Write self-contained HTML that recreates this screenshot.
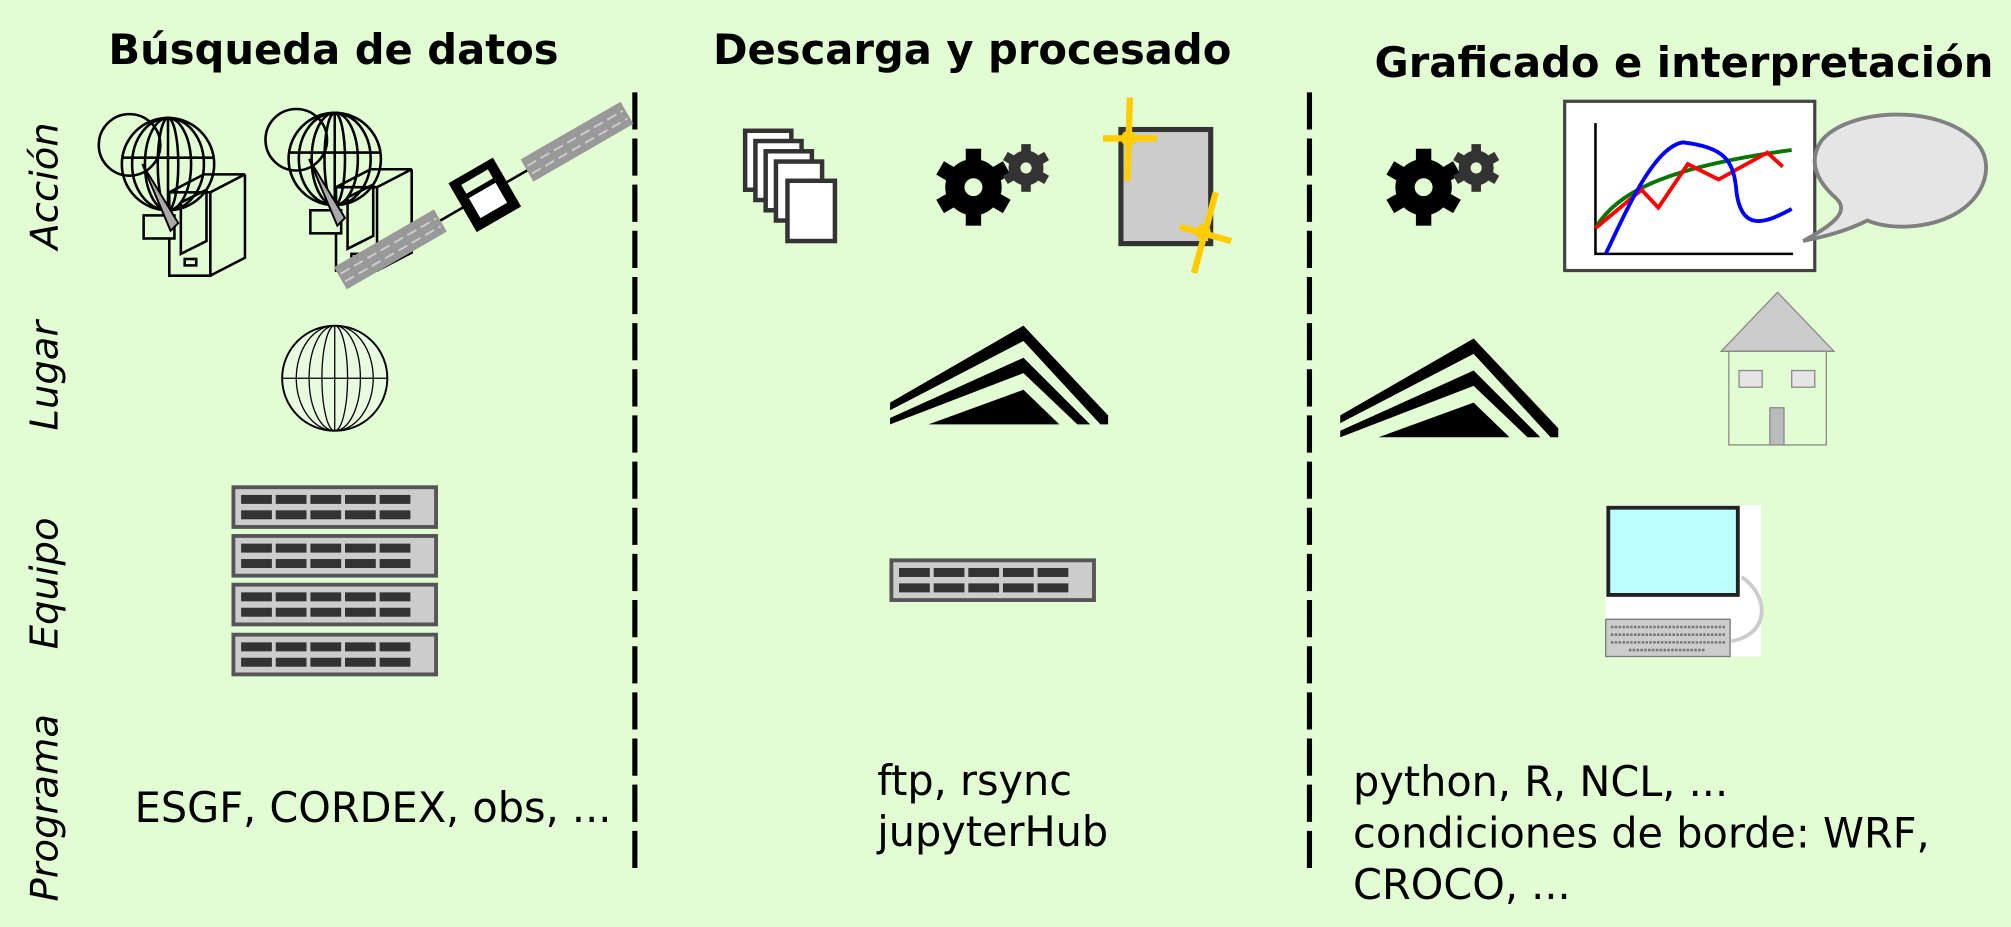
<!DOCTYPE html>
<html><head><meta charset="utf-8"><style>
html,body{margin:0;padding:0;background:#e2fdd4;}
svg{display:block}
text{font-family:"DejaVu Sans","Liberation Sans",sans-serif;}
</style></head><body>
<svg width="2011" height="927" viewBox="0 0 1568 723" preserveAspectRatio="none" xmlns="http://www.w3.org/2000/svg">
<rect width="1568" height="723" fill="#e2fdd4"/>
<defs>
<g id="srv">
<rect x="0" y="0" width="158" height="31" fill="#ccc" stroke="#555" stroke-width="3"/>
<g fill="#333">
<rect x="6" y="6" width="24" height="7"/><rect x="33" y="6" width="24" height="7"/><rect x="60" y="6" width="24" height="7"/><rect x="87" y="6" width="24" height="7"/><rect x="114" y="6" width="24" height="7"/>
<rect x="6" y="18" width="24" height="7"/><rect x="33" y="18" width="24" height="7"/><rect x="60" y="18" width="24" height="7"/><rect x="87" y="18" width="24" height="7"/><rect x="114" y="18" width="24" height="7"/>
</g></g>
<g id="gear">
<circle r="22" fill="currentColor"/>
<g fill="currentColor">
<rect x="-6" y="-30" width="12" height="12"/>
<rect x="-6" y="-30" width="12" height="12" transform="rotate(60)"/>
<rect x="-6" y="-30" width="12" height="12" transform="rotate(120)"/>
<rect x="-6" y="-30" width="12" height="12" transform="rotate(180)"/>
<rect x="-6" y="-30" width="12" height="12" transform="rotate(240)"/>
<rect x="-6" y="-30" width="12" height="12" transform="rotate(300)"/>
</g>
<circle r="7" fill="#e2fdd4"/>
</g>
<g id="pyr">
<path d="M0,60 L104,0 L170,70 L170,77 L164,77 L104,12 L0,66Z" fill="#000"/>
<path d="M0,72 L104,25 L156,77 L146,77 L104,37 L0,77Z" fill="#000"/>
<path d="M30,77 L104,50 L132,77Z" fill="#000"/>
</g>
<g id="globecab" fill="none" stroke="#000" stroke-width="2">
<circle cx="-30" cy="-15" r="24"/>
<circle cx="0" cy="0" r="36"/>
<ellipse cx="0" cy="0" rx="28" ry="36"/>
<ellipse cx="0" cy="0" rx="18" ry="36"/>
<ellipse cx="0" cy="0" rx="8" ry="36"/>
<line x1="-36" y1="-5" x2="36" y2="-5"/>
<line x1="0" y1="-36" x2="0" y2="36"/>
<path d="M1,22 L33,22 L33,87 L1,87Z M1,22 L28,8 L60,8 L33,22 M33,87 L60,73 L60,8"/>
<path d="M10,30 L30,20 L30,60 L10,70Z"/>
<rect x="-19" y="40" width="24" height="18" fill="#e2fdd4"/>
<rect x="13" y="74" width="9" height="5"/>
<path d="M-20,0 L8,46 L2,52Z" fill="#aaa" stroke="#000" stroke-width="1.5"/>
</g>
</defs>

<g font-weight="bold" font-size="32.5" fill="#000">
<text x="260" y="50" text-anchor="middle">Búsqueda de datos</text>
<text x="758" y="50" text-anchor="middle">Descarga y procesado</text>
<text x="1313" y="60" text-anchor="middle">Graficado e interpretación</text>
</g>

<line x1="495" y1="72" x2="495" y2="682" stroke="#000" stroke-width="4" stroke-dasharray="29,7"/>
<line x1="1021" y1="72" x2="1021" y2="682" stroke="#000" stroke-width="4" stroke-dasharray="29,7"/>

<g font-style="italic" font-size="30" fill="#000" text-anchor="middle">
<text transform="translate(45,145) rotate(-90)">Acción</text>
<text transform="translate(45,293) rotate(-90)">Lugar</text>
<text transform="translate(45,455) rotate(-90)">Equipo</text>
<text transform="translate(45,630) rotate(-90)">Programa</text>
</g>

<use href="#globecab" x="131" y="128"/>
<use href="#globecab" x="261" y="124"/>
<g transform="translate(378,152) rotate(-30)">
<line x1="-120" y1="0" x2="120" y2="0" stroke="#000" stroke-width="2"/>
<rect x="-130" y="-10" width="90" height="20" fill="#999"/>
<rect x="38" y="-10" width="90" height="20" fill="#999"/>
<g stroke="#ccc" stroke-width="1.5" stroke-dasharray="8,4"><line x1="-128" y1="-3" x2="-42" y2="-3"/><line x1="-128" y1="4" x2="-42" y2="4"/><line x1="40" y1="-3" x2="126" y2="-3"/><line x1="40" y1="4" x2="126" y2="4"/></g>
<rect x="-20" y="-22" width="40" height="44" fill="#000"/>
<rect x="-12" y="-4" width="24" height="18" fill="#fff"/>
<rect x="-12" y="-16" width="24" height="8" fill="#e2fdd4"/>
</g>

<g fill="#fff" stroke="#333" stroke-width="3.5">
<rect x="581" y="102" width="36" height="46"/>
<rect x="589" y="110" width="36" height="46"/>
<rect x="597" y="118" width="36" height="46"/>
<rect x="605" y="126" width="36" height="46"/>
<rect x="614" y="141" width="37" height="47"/>
</g>
<g transform="translate(759,146)" color="#000"><use href="#gear"/></g>
<g transform="translate(800,131) scale(0.62)" color="#333"><use href="#gear"/></g>
<rect x="874" y="101" width="70" height="89" fill="#ccc" stroke="#333" stroke-width="4"/>
<g stroke="#fc0" stroke-width="5">
<line x1="881" y1="76" x2="879" y2="141"/><line x1="860" y1="108" x2="902" y2="108"/>
<line x1="948" y1="150" x2="931" y2="213"/><line x1="920" y1="177" x2="960" y2="188"/>
</g>
<circle cx="880" cy="108" r="6" fill="#fc0"/><circle cx="938" cy="181" r="6" fill="#fc0"/>

<g transform="translate(1110,146)" color="#000"><use href="#gear"/></g>
<g transform="translate(1151,131) scale(0.62)" color="#333"><use href="#gear"/></g>
<rect x="1220" y="79" width="195" height="132" fill="#fff" stroke="#444" stroke-width="2.5"/>
<g fill="none" stroke-width="3">
<path d="M1244,96 L1244,198 L1398,198" stroke="#000" stroke-width="2"/>
<path d="M1244,178 C1260,150 1300,130 1397,117" stroke="#070"/>
<path d="M1244,178 L1280,148 L1293,162 L1316,128 L1340,140 L1378,119 L1390,130" stroke="#f00"/>
<path d="M1252,198 C1270,160 1290,115 1312,111 C1345,115 1352,125 1354,150 C1358,180 1375,175 1397,163" stroke="#00f"/>
</g>
<path d="M1406,188 C1430,175 1442,165 1432,155 C1415,140 1410,125 1420,110 C1440,85 1510,80 1540,110 C1560,130 1545,170 1495,176 C1480,178 1465,176 1456,172 C1440,180 1425,184 1406,188Z" fill="#e5e5e5" stroke="#808080" stroke-width="3"/>

<g fill="none" stroke="#000" stroke-width="1">
<circle cx="261" cy="295" r="41" fill="#e8fbe0" stroke-width="1.5"/>
<ellipse cx="261" cy="295" rx="30" ry="41"/><ellipse cx="261" cy="295" rx="20" ry="41"/><ellipse cx="261" cy="295" rx="10" ry="41"/>
<line x1="261" y1="254" x2="261" y2="336"/><line x1="220" y1="295" x2="302" y2="295"/>
</g>
<use href="#pyr" x="694" y="254"/>
<use href="#pyr" x="1045" y="264"/>
<polygon points="1342,274 1386,228 1430,274" fill="#ccc" stroke="#888" stroke-width="1"/>
<rect x="1348" y="274" width="76" height="73" fill="#e2fdd4" stroke="#888" stroke-width="1"/>
<rect x="1356" y="289" width="18" height="13" fill="#e5e5e5" stroke="#888"/>
<rect x="1397" y="289" width="18" height="13" fill="#e5e5e5" stroke="#888"/>
<rect x="1380" y="318" width="11" height="29" fill="#bbb" stroke="#888"/>

<use href="#srv" x="182" y="380"/>
<use href="#srv" x="182" y="418"/>
<use href="#srv" x="182" y="456"/>
<use href="#srv" x="182" y="495"/>
<use href="#srv" x="695" y="437"/>
<rect x="1252" y="394" width="121" height="118" fill="#fff"/>
<rect x="1254" y="396" width="101" height="68" fill="#bff" stroke="#222" stroke-width="3"/>
<path d="M1358,450 C1380,465 1380,495 1350,500" fill="none" stroke="#ccc" stroke-width="3"/>
<rect x="1252" y="483" width="97" height="29" fill="#ccc" stroke="#777"/>
<g stroke="#777" stroke-width="2" stroke-dasharray="2,1"><line x1="1256" y1="489" x2="1345" y2="489"/><line x1="1256" y1="495" x2="1345" y2="495"/><line x1="1256" y1="501" x2="1345" y2="501"/><line x1="1270" y1="507" x2="1330" y2="507"/></g>

<g font-size="32.3" fill="#000">
<text x="105" y="641">ESGF, CORDEX, obs, ...</text>
<text x="684" y="620">ftp, rsync</text>
<text x="684" y="660">jupyterHub</text>
<text x="1055" y="621">python, R, NCL, ...</text>
<text x="1055" y="661">condiciones de borde: WRF,</text>
<text x="1055" y="701">CROCO, ...</text>
</g>
</svg>
</body></html>
